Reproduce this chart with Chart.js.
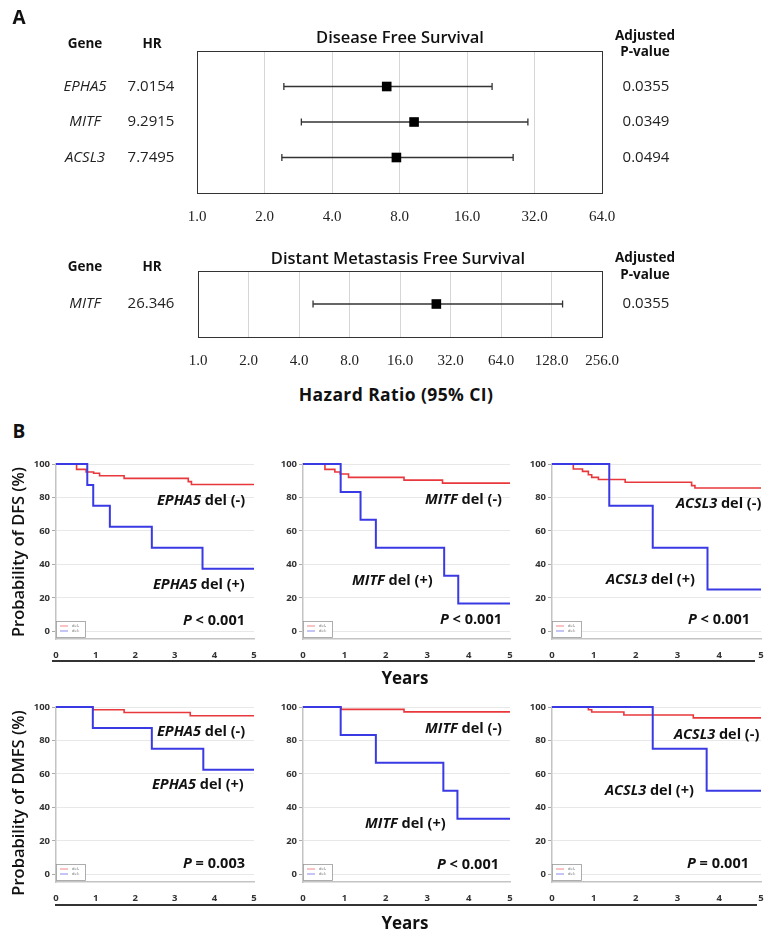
<!DOCTYPE html>
<html>
<head>
<meta charset="utf-8">
<script src="https://cdn.jsdelivr.net/npm/chart.js@4.4.1/dist/chart.umd.min.js"></script>
<style>
  body { margin: 0; background: #fff; }
  #wrap { position: relative; width: 778px; height: 932px; font-family: "Open Sans", sans-serif; color: #111; overflow: hidden; }
  #wrap canvas { position: absolute; }
  .t { position: absolute; white-space: nowrap; transform: translate(-50%, -50%); }
  .l { position: absolute; white-space: nowrap; transform: translate(0, -50%); font-size: 14.5px; font-weight: 700; }
  .l i { font-weight: 700; }
  .rule { position: absolute; height: 2px; background: #333; }
</style>
</head>
<body>
<div id="wrap">
  <canvas id="fDfs" width="778" height="241" style="left:0px;top:0px"></canvas>
  <canvas id="fDmfs" width="778" height="140" style="left:0px;top:230px"></canvas>
  <canvas id="k1" width="248" height="215" style="left:16px;top:454px"></canvas>
  <canvas id="k2" width="257" height="215" style="left:263px;top:454px"></canvas>
  <canvas id="k3" width="259" height="215" style="left:512px;top:454px"></canvas>
  <canvas id="k4" width="248" height="215" style="left:16px;top:697px"></canvas>
  <canvas id="k5" width="257" height="215" style="left:263px;top:697px"></canvas>
  <canvas id="k6" width="259" height="215" style="left:512px;top:697px"></canvas>
</div>
<script>
// --- forest plot data ---
const dfsGenes = ['EPHA5', 'MITF', 'ACSL3'];
const dfsHR = [7.0154, 9.2915, 7.7495];
const dfsLow = [2.44, 2.92, 2.39];
const dfsHigh = [20.7, 29.9, 25.7];
const dfsP = ['0.0355', '0.0349', '0.0494'];
const dfsTicks = [1, 2, 4, 8, 16, 32, 64];

const dmfsGenes = ['MITF'];
const dmfsHR = [26.346];
const dmfsLow = [4.85];
const dmfsHigh = [149];
const dmfsP = ['0.0355'];
const dmfsTicks = [1, 2, 4, 8, 16, 32, 64, 128, 256];

// --- Kaplan-Meier data: [years, % event free] ---
const years = [0, 1, 2, 3, 4, 5];
const survTicks = [0, 20, 40, 60, 80, 100];

const epha5DfsNeg = [[0,100],[0.52,96.8],[0.76,95.2],[0.95,94.5],[1.1,93.0],[1.72,91.4],[3.34,89.5],[3.42,87.8],[5,87.8]];
const epha5DfsPos = [[0,100],[0.79,87.5],[0.94,75],[1.36,62.5],[2.42,50],[3.70,37.5],[5,37.5]];
const mitfDfsNeg = [[0,100],[0.53,96.8],[0.77,95.2],[0.9,94],[1.1,92],[2.44,90.4],[3.37,88.6],[5,88.6]];
const mitfDfsPos = [[0,100],[0.91,83.3],[1.39,66.7],[1.76,50],[3.41,33.3],[3.75,16.7],[5,16.7]];
const acsl3DfsNeg = [[0,100],[0.51,97],[0.73,95.6],[0.87,93.6],[0.95,92],[1.11,90.7],[1.75,89.1],[3.34,87.1],[3.42,85.7],[5,85.7]];
const acsl3DfsPos = [[0,100],[1.37,75],[2.41,50],[3.72,25],[5,25]];

const epha5DmfsNeg = [[0,100],[0.93,98.4],[1.72,96.7],[3.39,94.8],[5,94.8]];
const epha5DmfsPos = [[0,100],[0.93,87.5],[2.42,75],[3.72,62.5],[5,62.5]];
const mitfDmfsNeg = [[0,100],[0.92,98.6],[2.44,97.1],[5,97.1]];
const mitfDmfsPos = [[0,100],[0.91,83.3],[1.76,66.7],[3.39,50],[3.73,33.3],[5,33.3]];
const acsl3DmfsNeg = [[0,100],[0.87,98.4],[0.95,97],[1.72,95.2],[3.38,93.5],[5,93.5]];
const acsl3DmfsPos = [[0,100],[2.41,75],[3.70,50],[5,50]];

const red = '#e8383c';
const blue = '#3a3ae4';
const wrap = document.getElementById('wrap');

function txt(s, x, y, css) {
  const d = document.createElement('div');
  d.className = 't';
  d.style.left = x + 'px';
  d.style.top = y + 'px';
  d.style.cssText += css || '';
  d.innerHTML = s;
  wrap.appendChild(d);
  return d;
}
function note(s, x, y) {
  const d = document.createElement('div');
  d.className = 'l';
  d.style.left = x + 'px';
  d.style.top = y + 'px';
  d.innerHTML = s;
  wrap.appendChild(d);
}
function rule(x, y, w) {
  const d = document.createElement('div');
  d.className = 'rule';
  d.style.left = x + 'px';
  d.style.top = y + 'px';
  d.style.width = w + 'px';
  wrap.appendChild(d);
}

// box + side columns of the forest plots
const forestSide = {
  id: 'forestSide',
  afterDraw(chart, args, o) {
    const { ctx, chartArea: a, scales } = chart;
    ctx.save();
    ctx.strokeStyle = '#333';
    ctx.lineWidth = 1;
    ctx.strokeRect(a.left + 0.5, a.top + 0.5, a.right - a.left, a.bottom - a.top);
    ctx.fillStyle = '#222';
    ctx.textAlign = 'center';
    ctx.textBaseline = 'middle';
    o.genes.forEach((g, i) => {
      const y = scales.y.getPixelForValue(i + 1);
      ctx.font = 'italic 15px "Open Sans"';
      ctx.fillText(g, 85, y);
      ctx.font = '15px "Open Sans"';
      ctx.fillText(String(o.hr[i]), 151, y);
      ctx.fillText(o.p[i], 646, y);
    });
    ctx.restore();
  }
};

function forest(id, genes, hr, lo, hi, pv, ticks, pad, axisH) {
  const ds = [{
    type: 'scatter',
    data: hr.map((v, i) => ({ x: v, y: i + 1 })),
    pointStyle: 'rect', pointRadius: 6.8,
    backgroundColor: '#000', borderColor: '#000', borderWidth: 0
  }];
  genes.forEach((g, i) => ds.push({
    type: 'line',
    data: [{ x: lo[i], y: i + 1 }, { x: hi[i], y: i + 1 }],
    borderColor: '#333', borderWidth: 1.6,
    pointStyle: 'line', rotation: 90, pointRadius: 3.5,
    pointBorderColor: '#333', pointBorderWidth: 1.3
  }));
  new Chart(document.getElementById(id), {
    data: { datasets: ds },
    options: {
      responsive: false, animation: false,
      layout: { padding: pad },
      plugins: { legend: { display: false }, tooltip: { enabled: false },
        forestSide: { genes: genes, hr: hr, p: pv } },
      scales: {
        x: {
          type: 'logarithmic', min: ticks[0], max: ticks[ticks.length - 1],
          afterBuildTicks: s => { s.ticks = ticks.map(v => ({ value: v })); },
          afterFit: s => { s.height = axisH; },
          border: { display: false },
          grid: { drawTicks: false,
            color: c => (c.index === 0 || c.index === ticks.length - 1) ? 'rgba(0,0,0,0)' : '#d6d6d6' },
          ticks: { padding: 15, color: '#222', font: { family: 'Liberation Serif', size: 15 },
            callback: v => Number(v).toFixed(1) }
        },
        y: { display: false, min: 0, max: genes.length + 1, reverse: true }
      }
    },
    plugins: [forestSide]
  });
}

forest('fDfs', dfsGenes, dfsHR, dfsLow, dfsHigh, dfsP, dfsTicks, { left: 197, right: 176, top: 51, bottom: 0 }, 48);
forest('fDmfs', dmfsGenes, dmfsHR, dmfsLow, dmfsHigh, dmfsP, dmfsTicks, { left: 198, right: 176, top: 41, bottom: 0 }, 33);

// tiny legend inside KM plots
const kmLegend = {
  id: 'kmLegend',
  afterDraw(chart) {
    const { ctx, chartArea: a } = chart;
    const x = a.left, y = a.bottom - 18;
    ctx.save();
    ctx.fillStyle = '#fff';
    ctx.fillRect(x, y, 29, 16);
    ctx.strokeStyle = '#999';
    ctx.lineWidth = 0.8;
    ctx.strokeRect(x + 0.5, y + 0.5, 29, 16);
    ctx.font = '4px "Open Sans"';
    ctx.textBaseline = 'middle';
    chart.data.datasets.slice().reverse().forEach((d, i) => {
      const yy = y + 5 + i * 5;
      ctx.strokeStyle = d.borderColor;
      ctx.lineWidth = 0.6;
      ctx.beginPath(); ctx.moveTo(x + 4, yy); ctx.lineTo(x + 12, yy); ctx.stroke();
      ctx.fillStyle = '#666';
      ctx.fillText(d.label, x + 16, yy);
    });
    ctx.restore();
  }
};

function km(id, neg, pos) {
  const tick = { color: '#333', font: { family: 'Open Sans', size: 9.5, weight: 'bold' } };
  new Chart(document.getElementById(id), {
    type: 'line',
    data: { datasets: [
      { label: 'del+', data: pos.map(p => ({ x: p[0], y: p[1] })), borderColor: blue, borderWidth: 2,
        stepped: 'before', pointRadius: 0, clip: 4 },
      { label: 'del-', data: neg.map(p => ({ x: p[0], y: p[1] })), borderColor: red, borderWidth: 1.6,
        stepped: 'before', pointRadius: 0, clip: 4 }
    ] },
    options: {
      responsive: false, animation: false,
      layout: { padding: { top: 10, right: 10, left: 0, bottom: 0 } },
      plugins: { legend: { display: false }, tooltip: { enabled: false } },
      scales: {
        x: {
          type: 'linear', min: 0, max: 5,
          afterBuildTicks: s => { s.ticks = years.map(v => ({ value: v })); },
          afterFit: s => { s.height = 30; },
          grid: { display: false },
          border: { color: '#c4c4c4', width: 1.5 },
          ticks: Object.assign({ padding: 3 }, tick)
        },
        y: {
          min: -4.5, max: 100,
          afterBuildTicks: s => { s.ticks = survTicks.map(v => ({ value: v })); },
          afterFit: s => { s.width = 40; },
          grid: { color: '#e8e8e8', tickLength: 4, tickColor: '#aaa' },
          border: { color: '#c4c4c4', width: 1.5 },
          ticks: Object.assign({ padding: 2 }, tick)
        }
      }
    },
    plugins: [kmLegend]
  });
}

km('k1', epha5DfsNeg, epha5DfsPos);
km('k2', mitfDfsNeg, mitfDfsPos);
km('k3', acsl3DfsNeg, acsl3DfsPos);
km('k4', epha5DmfsNeg, epha5DmfsPos);
km('k5', mitfDmfsNeg, mitfDmfsPos);
km('k6', acsl3DmfsNeg, acsl3DmfsPos);

// --- text ---
const hdr = 'font-size:13.5px;font-weight:700;';
txt('A', 19, 17, 'font-size:19px;font-weight:700;');
txt('Gene', 85, 43, hdr);
txt('HR', 152, 43, hdr);
txt('Disease Free Survival', 400, 36, 'font-size:16.5px;font-weight:600;');
txt('Adjusted', 645, 35, hdr);
txt('P-value', 645, 51, hdr);
txt('Gene', 85, 266, hdr);
txt('HR', 152, 266, hdr);
txt('Distant Metastasis Free Survival', 398, 257, 'font-size:16.5px;font-weight:600;');
txt('Adjusted', 645, 257, hdr);
txt('P-value', 645, 274, hdr);
txt('Hazard Ratio (95% CI)', 396, 394, 'font-size:17.5px;font-weight:700;letter-spacing:0.4px;');

txt('B', 19, 431, 'font-size:19px;font-weight:700;');
txt('Probability of DFS (%)', 17, 552, 'font-size:16.5px;font-weight:600;transform:translate(-50%,-50%) rotate(-90deg);');
txt('Probability of DMFS (%)', 17, 803, 'font-size:16.5px;font-weight:600;transform:translate(-50%,-50%) rotate(-90deg);');
rule(52, 660, 703);
rule(55, 904, 702);
txt('Years', 405, 677, 'font-size:17px;font-weight:700;');
txt('Years', 405, 922, 'font-size:17px;font-weight:700;');

note('<i>EPHA5</i> del (-)', 157, 499);
note('<i>EPHA5</i> del (+)', 153, 583);
note('<i>P</i> &lt; 0.001', 183, 619);
note('<i>MITF</i> del (-)', 425, 498);
note('<i>MITF</i> del (+)', 352, 579);
note('<i>P</i> &lt; 0.001', 440, 618);
note('<i>ACSL3</i> del (-)', 676, 502);
note('<i>ACSL3</i> del (+)', 606, 578);
note('<i>P</i> &lt; 0.001', 688, 618);

note('<i>EPHA5</i> del (-)', 157, 730);
note('<i>EPHA5</i> del (+)', 152, 783);
note('<i>P</i> = 0.003', 183, 862);
note('<i>MITF</i> del (-)', 425, 727);
note('<i>MITF</i> del (+)', 365, 822);
note('<i>P</i> &lt; 0.001', 437, 863);
note('<i>ACSL3</i> del (-)', 674, 733);
note('<i>ACSL3</i> del (+)', 605, 789);
note('<i>P</i> = 0.001', 687, 862);
</script>
</body>
</html>
